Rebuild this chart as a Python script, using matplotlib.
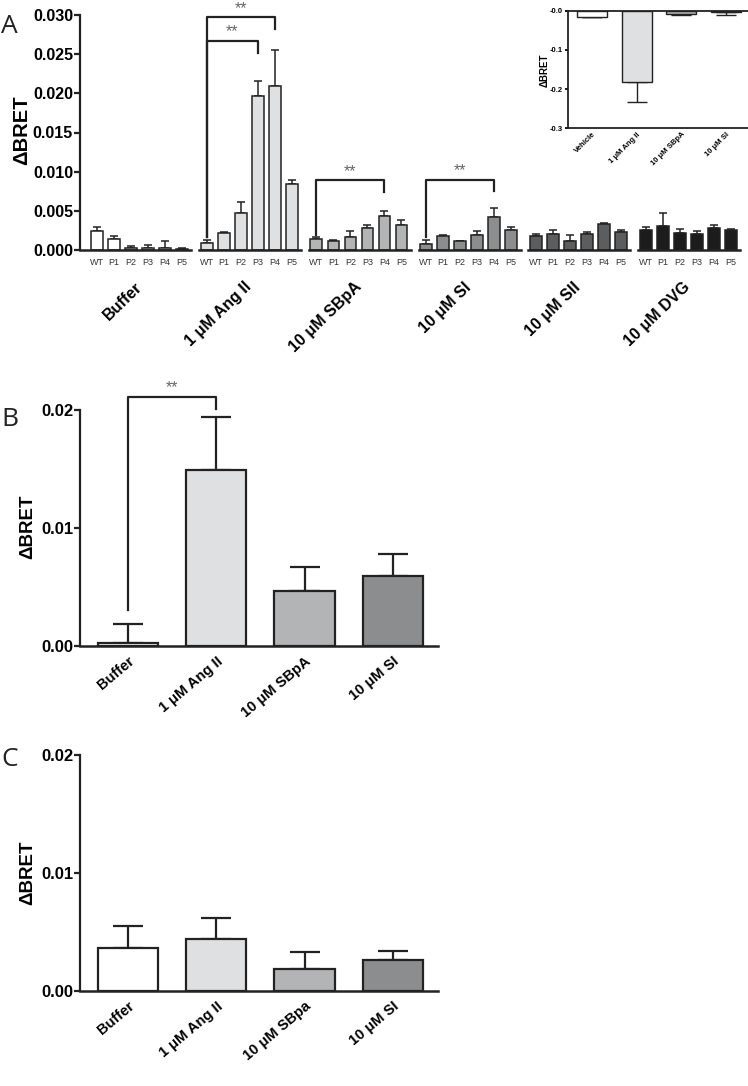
import numpy as np
import matplotlib
matplotlib.use('Agg')
import matplotlib.pyplot as plt
import matplotlib.transforms as mtransforms

plt.rcParams['font.family'] = ['Liberation Sans', 'DejaVu Sans']

# panel A: 6 treatments x 6 receptor variants
groups = ['Buffer', '1 μM Ang II', '10 μM SBpA', '10 μM SI', '10 μM SII', '10 μM DVG']
peptides = ['WT', 'P1', 'P2', 'P3', 'P4', 'P5']
a_mean = [
    [0.0024, 0.0014, 0.0002, 0.0003, 0.0003, 0.0001],
    [0.0009, 0.0022, 0.0047, 0.0196, 0.0209, 0.0084],
    [0.0014, 0.0011, 0.0017, 0.0028, 0.0044, 0.0032],
    [0.0008, 0.0018, 0.0011, 0.0019, 0.0042, 0.0026],
    [0.0018, 0.0021, 0.0012, 0.0021, 0.0033, 0.0023],
    [0.0025, 0.0031, 0.0022, 0.0020, 0.0028, 0.0026],
]
a_err = [
    [0.0005, 0.0004, 0.0003, 0.0004, 0.0009, 0.0002],
    [0.0004, 0.0001, 0.0014, 0.0020, 0.0046, 0.0006],
    [0.0002, 0.0002, 0.0007, 0.0004, 0.0006, 0.0006],
    [0.0005, 0.0001, 0.0001, 0.0005, 0.0011, 0.0004],
    [0.0003, 0.0005, 0.0007, 0.0002, 0.0002, 0.0002],
    [0.0004, 0.0016, 0.0005, 0.0004, 0.0004, 0.0001],
]
# significance brackets: (group, from bar, to bar, bracket height)
a_sig = [(1, 0, 4, 0.0297), (1, 0, 3, 0.0267), (2, 0, 4, 0.0089), (3, 0, 4, 0.0090)]

# inset of panel A
ins_labels = ['Vehicle', '1 μM Ang II', '10 μM SBpA', '10 μM SI']
ins_mean = [-0.015, -0.183, -0.008, -0.003]
ins_err = [0.002, 0.050, 0.003, 0.008]

# panel B
b_labels = ['Buffer', '1 μM Ang II', '10 μM SBpA', '10 μM SI']
b_mean = [0.0002, 0.0149, 0.0046, 0.0059]
b_err = [0.0016, 0.0045, 0.0021, 0.0019]
b_sig = [(0, 1, 0.0211)]

# panel C
c_labels = ['Buffer', '1 μM Ang II', '10 μM SBpa', '10 μM SI']
c_mean = [0.0036, 0.0044, 0.0018, 0.0026]
c_err = [0.0019, 0.0018, 0.0015, 0.0008]

grp_colors = ['#ffffff', '#dfe0e1', '#b3b4b6', '#8c8d8f', '#5c5d5f', '#1c1c1c']
edge = '#222222'
W, H = 748, 1086
fig = plt.figure(figsize=(W / 100, H / 100), dpi=100)


def style_axis(ax, lw=1.6):
    for s in ['top', 'right', 'bottom']:
        ax.spines[s].set_visible(False)
    ax.spines['left'].set_linewidth(lw)
    ax.spines['left'].set_color(edge)
    ax.tick_params(axis='y', direction='out', length=4, width=lw, pad=1, color=edge)
    ax.tick_params(axis='x', length=0)


# ---------- panel A ----------
step = 6.45
axA = fig.add_axes([80 / W, 1 - 250 / H, 660 / W, 235 / H])
xs = [g * step + np.arange(6) for g in range(6)]
for g in range(6):
    axA.bar(xs[g], a_mean[g], width=0.7, color=grp_colors[g], edgecolor=edge, linewidth=1.1, zorder=2)
    axA.errorbar(xs[g], a_mean[g], yerr=[np.zeros(6), a_err[g]], fmt='none', ecolor=edge,
                 elinewidth=1.1, capsize=2.8, capthick=1.1, zorder=1)
    x0 = -1 if g == 0 else xs[g][0] - 0.45
    axA.plot([x0, xs[g][-1] + 0.55], [0, 0], color=edge, lw=1.8, clip_on=False, zorder=3)
style_axis(axA)
axA.set_xlim(-1, 37.8)
axA.set_ylim(0, 0.030)
yt = np.arange(0, 0.0301, 0.005)
axA.set_yticks(yt)
axA.set_yticklabels(['%.3f' % v for v in yt], fontsize=11.5, fontweight='bold')
axA.set_xticks(np.concatenate(xs))
axA.set_xticklabels(peptides * 6, fontsize=6.5, color='#333333')
axA.tick_params(axis='x', pad=6)

# group names under each cluster
trA = mtransforms.blended_transform_factory(axA.transData, axA.transAxes)
for g, lab in enumerate(groups):
    axA.text(xs[g].mean() + 0.3, -0.125, lab, transform=trA, rotation=44, ha='right', va='top',
             fontsize=11.5, fontweight='bold')

for g, i0, i1, yb in a_sig:
    xa, xb = xs[g][i0], xs[g][i1]
    ylo = a_mean[g][i0] + a_err[g][i0] + 0.0003
    axA.plot([xa, xa, xb, xb], [ylo, yb, yb, yb - 0.0015], color=edge, lw=1.6, clip_on=False, zorder=4)
    axA.text((xa + xb) / 2, yb + 0.0002, '**', ha='center', va='bottom', fontsize=11.5,
             color='#666666', clip_on=False)

fig.text(22 / W, 1 - 130 / H, 'ΔBRET', rotation=90, ha='center', va='center', fontsize=14.5, fontweight='bold')

# ---------- inset ----------
axI = fig.add_axes([568 / W, 1 - 128.3 / H, 180 / W, 117.6 / H])
xi = np.arange(4)
axI.bar(xi, ins_mean, width=0.67, color=grp_colors[:4], edgecolor=edge, linewidth=1.0, zorder=2)
axI.errorbar(xi, ins_mean, yerr=[ins_err, np.zeros(4)], fmt='none', ecolor=edge,
             elinewidth=1.0, capsize=7, capthick=1.0, zorder=1)
axI.set_xlim(-0.54, 3.5)
axI.set_ylim(-0.3, 0)
for s in ['top', 'left', 'bottom']:
    axI.spines[s].set_linewidth(1.3)
    axI.spines[s].set_color(edge)
axI.spines['right'].set_visible(False)
axI.set_yticks([0, -0.1, -0.2, -0.3])
axI.set_yticklabels(['-0.0', '-0.1', '-0.2', '-0.3'], fontsize=5.5, fontweight='bold')
axI.tick_params(axis='y', length=2.5, width=1.3, pad=1)
axI.tick_params(axis='x', length=0, pad=2)
axI.set_xticks(xi)
axI.set_xticklabels(ins_labels, rotation=45, ha='right', rotation_mode='anchor', fontsize=5.5, fontweight='bold')
fig.text(545 / W, 1 - 70 / H, 'ΔBRET', rotation=90, ha='center', va='center', fontsize=7, fontweight='bold')


# ---------- panels B and C ----------
def small_panel(y0, labels, means, errs, sig):
    ax = fig.add_axes([80 / W, 1 - y0 / H, 358 / W, 236 / H])
    x = np.arange(len(means))
    ax.bar(x, means, width=0.68, color=grp_colors[:4], edgecolor=edge, linewidth=1.6, zorder=2)
    ax.errorbar(x, means, yerr=[np.zeros(len(errs)), errs], fmt='none', ecolor=edge,
                elinewidth=1.6, capsize=11, capthick=1.6, zorder=1)
    ax.axhline(0, color=edge, lw=1.8, zorder=3, clip_on=False)
    style_axis(ax)
    ax.set_xlim(-0.54, 3.51)
    ax.set_ylim(0, 0.02)
    ax.set_yticks([0, 0.01, 0.02])
    ax.set_yticklabels(['0.00', '0.01', '0.02'], fontsize=12, fontweight='bold')
    ax.set_xticks(x)
    ax.set_xticklabels(labels, rotation=40, ha='right', rotation_mode='anchor', fontsize=10.5, fontweight='bold')
    ax.tick_params(axis='x', pad=6)
    for i0, i1, yb in sig:
        ylo = means[i0] + errs[i0] + 0.0012
        ax.plot([i0, i0, i1, i1], [ylo, yb, yb, yb - 0.001], color=edge, lw=1.6, clip_on=False)
        ax.text((i0 + i1) / 2, yb + 0.0001, '**', ha='center', va='bottom', fontsize=11.5,
                color='#666666', clip_on=False)
    return ax


small_panel(645.7, b_labels, b_mean, b_err, b_sig)
fig.text(28 / W, 1 - 527 / H, 'ΔBRET', rotation=90, ha='center', va='center', fontsize=13.5, fontweight='bold')
small_panel(990.7, c_labels, c_mean, c_err, [])
fig.text(28 / W, 1 - 873 / H, 'ΔBRET', rotation=90, ha='center', va='center', fontsize=13.5, fontweight='bold')

for lab, yy in [('A', 33), ('B', 426), ('C', 766)]:
    fig.text(1 / W, 1 - yy / H, lab, ha='left', va='baseline', fontsize=19, family='Open Sans', color='#222222')

fig.savefig('out.png', dpi=100)
